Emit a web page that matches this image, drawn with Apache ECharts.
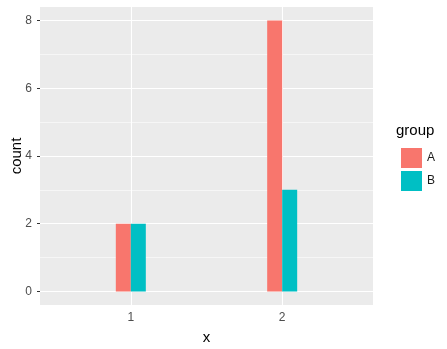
<!DOCTYPE html>
<html>
<head>
<meta charset="utf-8">
<script src="https://cdn.jsdelivr.net/npm/echarts@6/dist/echarts.min.js"></script>
<style>html,body{margin:0;padding:0;background:#fff}#c{width:447px;height:349px}</style>
</head>
<body>
<div id="c"></div>
<script>
const xCategories = [1, 2];
const groups = ['A', 'B'];
const countA = [2, 8];
const countB = [2, 3];
const yTicks = [0, 2, 4, 6, 8];
const yMinor = [1, 3, 5, 7];
const xTicks = [1, 2];

const chart = echarts.init(document.getElementById('c'), null, {renderer: 'canvas'});
const font = 'Liberation Sans, Arial, sans-serif';
const gridLines = [];
yTicks.forEach(v => gridLines.push({yAxis: v, lineStyle: {color: '#ffffff', width: 1.1, type: 'solid'}}));
yMinor.forEach(v => gridLines.push({yAxis: v, lineStyle: {color: '#ffffff', width: 0.55, type: 'solid'}}));
xTicks.forEach(v => gridLines.push({xAxis: v, lineStyle: {color: '#ffffff', width: 1.1, type: 'solid'}}));

chart.setOption({
  animation: false,
  backgroundColor: '#ffffff',
  grid: {left: 40, right: 74, top: 7, bottom: 44, show: true, backgroundColor: '#EBEBEB', borderWidth: 0,
         containLabel: false, outerBoundsMode: 'none'},
  xAxis: {
    type: 'value', min: 0.4, max: 2.6,
    name: 'x', nameLocation: 'middle', nameGap: 25, nameMoveOverlap: false,
    nameTextStyle: {fontFamily: font, fontSize: 15, color: '#000'},
    axisLine: {show: false},
    axisTick: {show: true, length: 3, customValues: xTicks, lineStyle: {color: '#333333', width: 1}},
    axisLabel: {customValues: xTicks, margin: 7, fontFamily: font, fontSize: 12, color: '#4D4D4D'},
    splitLine: {show: false}
  },
  yAxis: {
    type: 'value', min: -0.4, max: 8.4,
    name: 'count', nameLocation: 'middle', nameGap: 16, nameRotate: 90, nameMoveOverlap: false,
    nameTextStyle: {fontFamily: font, fontSize: 15, color: '#000'},
    axisLine: {show: false},
    axisTick: {show: true, length: 3, customValues: yTicks, lineStyle: {color: '#333333', width: 1}},
    axisLabel: {customValues: yTicks, margin: 8, fontFamily: font, fontSize: 12, color: '#4D4D4D'},
    splitLine: {show: false}
  },
  legend: {
    data: groups, orient: 'vertical', left: 396, top: 143,
    itemWidth: 21, itemHeight: 20, itemGap: 3, icon: 'rect',
    textStyle: {fontFamily: font, fontSize: 12, color: '#1A1A1A'},
    selectedMode: false
  },
  graphic: [{
    type: 'text', left: 396, top: 123,
    style: {text: 'group', fontFamily: font, fontSize: 15, fill: '#000'}
  }],
  series: [
    {
      type: 'line', data: [], silent: true, z: 1,
      markLine: {silent: true, z: 1, symbol: 'none', label: {show: false}, data: gridLines, animation: false}
    },
    {
      name: groups[0], type: 'bar', z: 3, barWidth: 15, barGap: '0%',
      itemStyle: {color: '#F8766D'},
      data: xCategories.map((x, i) => [x, countA[i]])
    },
    {
      name: groups[1], type: 'bar', z: 3, barWidth: 15, barGap: '0%',
      itemStyle: {color: '#00BFC4'},
      data: xCategories.map((x, i) => [x, countB[i]])
    }
  ]
});
</script>
</body>
</html>
